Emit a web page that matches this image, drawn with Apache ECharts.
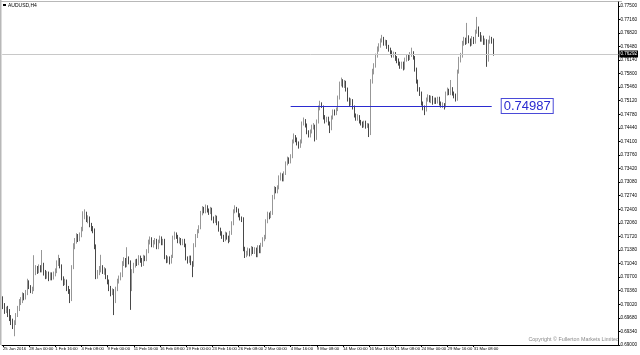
<!DOCTYPE html>
<html><head><meta charset="utf-8">
<script src="https://cdn.jsdelivr.net/npm/echarts@6/dist/echarts.min.js"></script>
<style>html,body{margin:0;padding:0;background:#fff}#c{width:640px;height:355px}</style>
</head><body><div id="c"></div>
<script>
const opens = [
0.7015,0.6998,0.6985,0.6990,0.6978,0.6968,0.6960,0.6952,0.6958,0.6975,
0.6992,0.7008,0.7012,0.7025,0.7020,0.7030,0.7058,0.7045,0.7036,0.7040,
0.7082,0.7092,0.7085,0.7095,0.7088,0.7100,0.7080,0.7072,0.7078,0.7068,
0.7075,0.7070,0.7078,0.7085,0.7105,0.7112,0.7098,0.7068,0.7055,0.7060,
0.7042,0.7035,0.7015,0.7095,0.7148,0.7160,0.7172,0.7165,0.7175,0.7190,
0.7225,0.7228,0.7212,0.7218,0.7200,0.7192,0.7188,0.7148,0.7072,0.7080,
0.7090,0.7095,0.7082,0.7088,0.7070,0.7060,0.7040,0.7030,0.7035,0.7010,
0.7040,0.7060,0.7068,0.7075,0.7105,0.7112,0.7100,0.7115,0.7108,0.7040,
0.7085,0.7100,0.7110,0.7105,0.7118,0.7112,0.7102,0.7120,0.7115,0.7135,
0.7158,0.7165,0.7150,0.7158,0.7162,0.7145,0.7160,0.7168,0.7155,0.7162,
0.7120,0.7112,0.7118,0.7108,0.7122,0.7170,0.7178,0.7172,0.7160,0.7165,
0.7155,0.7162,0.7150,0.7118,0.7110,0.7120,0.7105,0.7100,0.7150,0.7172,
0.7185,0.7195,0.7230,0.7242,0.7235,0.7245,0.7238,0.7232,0.7240,0.7218,
0.7212,0.7220,0.7205,0.7190,0.7180,0.7172,0.7165,0.7178,0.7170,0.7162,
0.7180,0.7205,0.7235,0.7242,0.7238,0.7225,0.7218,0.7215,0.7140,0.7125,
0.7130,0.7138,0.7128,0.7142,0.7132,0.7140,0.7125,0.7145,0.7135,0.7150,
0.7165,0.7170,0.7210,0.7228,0.7222,0.7230,0.7270,0.7292,0.7285,0.7295,
0.7318,0.7325,0.7315,0.7330,0.7355,0.7365,0.7360,0.7372,0.7410,0.7422,
0.7415,0.7405,0.7398,0.7410,0.7455,0.7462,0.7450,0.7432,0.7425,0.7435,
0.7445,0.7448,0.7418,0.7460,0.7495,0.7505,0.7498,0.7470,0.7462,0.7468,
0.7455,0.7442,0.7470,0.7485,0.7480,0.7490,0.7520,0.7555,0.7562,0.7550,
0.7558,0.7540,0.7515,0.7505,0.7512,0.7495,0.7475,0.7468,0.7472,0.7460,
0.7455,0.7450,0.7458,0.7448,0.7452,0.7430,0.7560,0.7585,0.7600,0.7625,
0.7640,0.7650,0.7662,0.7668,0.7655,0.7660,0.7648,0.7640,0.7632,0.7625,
0.7630,0.7618,0.7612,0.7605,0.7598,0.7605,0.7595,0.7615,0.7622,0.7618,
0.7628,0.7632,0.7620,0.7590,0.7560,0.7540,0.7530,0.7505,0.7495,0.7490,
0.7515,0.7522,0.7512,0.7520,0.7508,0.7515,0.7510,0.7518,0.7505,0.7500,
0.7502,0.7498,0.7530,0.7538,0.7532,0.7540,0.7530,0.7525,0.7518,0.7585,
0.7615,0.7625,0.7655,0.7665,0.7658,0.7670,0.7662,0.7655,0.7668,0.7660,
0.7685,0.7692,0.7678,0.7665,0.7670,0.7658,0.7662,0.7615,0.7660,0.7668,
0.7662];
const closes = [
0.6998,0.6985,0.6990,0.6978,0.6968,0.6960,0.6952,0.6958,0.6975,0.6992,
0.7008,0.7012,0.7025,0.7020,0.7030,0.7058,0.7045,0.7036,0.7040,0.7082,
0.7092,0.7085,0.7095,0.7088,0.7100,0.7080,0.7072,0.7078,0.7068,0.7075,
0.7070,0.7078,0.7085,0.7105,0.7112,0.7098,0.7068,0.7055,0.7060,0.7042,
0.7035,0.7015,0.7095,0.7148,0.7160,0.7172,0.7165,0.7175,0.7190,0.7225,
0.7228,0.7212,0.7218,0.7200,0.7192,0.7188,0.7148,0.7072,0.7080,0.7090,
0.7095,0.7082,0.7088,0.7070,0.7060,0.7040,0.7030,0.7035,0.7010,0.7040,
0.7060,0.7068,0.7075,0.7105,0.7112,0.7100,0.7115,0.7108,0.7040,0.7085,
0.7100,0.7110,0.7105,0.7118,0.7112,0.7102,0.7120,0.7115,0.7135,0.7158,
0.7165,0.7150,0.7158,0.7162,0.7145,0.7160,0.7168,0.7155,0.7162,0.7120,
0.7112,0.7118,0.7108,0.7122,0.7170,0.7178,0.7172,0.7160,0.7165,0.7155,
0.7162,0.7150,0.7118,0.7110,0.7120,0.7105,0.7100,0.7150,0.7172,0.7185,
0.7195,0.7230,0.7242,0.7235,0.7245,0.7238,0.7232,0.7240,0.7218,0.7212,
0.7220,0.7205,0.7190,0.7180,0.7172,0.7165,0.7178,0.7170,0.7162,0.7180,
0.7205,0.7235,0.7242,0.7238,0.7225,0.7218,0.7215,0.7140,0.7125,0.7130,
0.7138,0.7128,0.7142,0.7132,0.7140,0.7125,0.7145,0.7135,0.7150,0.7165,
0.7170,0.7210,0.7228,0.7222,0.7230,0.7270,0.7292,0.7285,0.7295,0.7318,
0.7325,0.7315,0.7330,0.7355,0.7365,0.7360,0.7372,0.7410,0.7422,0.7415,
0.7405,0.7398,0.7410,0.7455,0.7462,0.7450,0.7432,0.7425,0.7435,0.7445,
0.7448,0.7418,0.7460,0.7495,0.7505,0.7498,0.7470,0.7462,0.7468,0.7455,
0.7442,0.7470,0.7485,0.7480,0.7490,0.7520,0.7555,0.7562,0.7550,0.7558,
0.7540,0.7515,0.7505,0.7512,0.7495,0.7475,0.7468,0.7472,0.7460,0.7455,
0.7450,0.7458,0.7448,0.7452,0.7430,0.7560,0.7585,0.7600,0.7625,0.7640,
0.7650,0.7662,0.7668,0.7655,0.7660,0.7648,0.7640,0.7632,0.7625,0.7630,
0.7618,0.7612,0.7605,0.7598,0.7605,0.7595,0.7615,0.7622,0.7618,0.7628,
0.7632,0.7620,0.7590,0.7560,0.7540,0.7530,0.7505,0.7495,0.7490,0.7515,
0.7522,0.7512,0.7520,0.7508,0.7515,0.7510,0.7518,0.7505,0.7500,0.7502,
0.7498,0.7530,0.7538,0.7532,0.7540,0.7530,0.7525,0.7518,0.7585,0.7615,
0.7625,0.7655,0.7665,0.7658,0.7670,0.7662,0.7655,0.7668,0.7660,0.7685,
0.7692,0.7678,0.7665,0.7670,0.7658,0.7662,0.7615,0.7660,0.7668,0.7662,
0.76292];
const highs = [
0.7022,0.7005,0.6996,0.6998,0.6990,0.6975,0.6966,0.6962,0.6980,0.6998,
0.7015,0.7020,0.7032,0.7030,0.7038,0.7066,0.7062,0.7050,0.7046,0.7125,
0.7100,0.7098,0.7102,0.7100,0.7138,0.7106,0.7088,0.7085,0.7084,0.7082,
0.7082,0.7084,0.7092,0.7112,0.7126,0.7118,0.7102,0.7072,0.7066,0.7064,
0.7048,0.7040,0.7100,0.7155,0.7168,0.7180,0.7178,0.7182,0.7196,0.7235,
0.7240,0.7234,0.7225,0.7222,0.7206,0.7198,0.7192,0.7152,0.7088,0.7098,
0.7126,0.7100,0.7095,0.7092,0.7075,0.7064,0.7048,0.7042,0.7040,0.7046,
0.7066,0.7074,0.7082,0.7110,0.7120,0.7118,0.7145,0.7122,0.7112,0.7090,
0.7106,0.7115,0.7116,0.7125,0.7124,0.7118,0.7126,0.7124,0.7140,0.7164,
0.7172,0.7170,0.7163,0.7168,0.7166,0.7164,0.7174,0.7172,0.7166,0.7166,
0.7125,0.7122,0.7122,0.7126,0.7174,0.7184,0.7182,0.7176,0.7170,0.7168,
0.7166,0.7166,0.7154,0.7122,0.7124,0.7124,0.7110,0.7155,0.7178,0.7190,
0.7200,0.7236,0.7248,0.7246,0.7252,0.7250,0.7242,0.7246,0.7244,0.7222,
0.7226,0.7224,0.7210,0.7194,0.7185,0.7176,0.7184,0.7182,0.7174,0.7186,
0.7210,0.7240,0.7250,0.7246,0.7242,0.7230,0.7222,0.7220,0.7146,0.7136,
0.7144,0.7142,0.7148,0.7146,0.7145,0.7144,0.7150,0.7150,0.7156,0.7170,
0.7176,0.7215,0.7234,0.7232,0.7236,0.7276,0.7298,0.7296,0.7300,0.7325,
0.7332,0.7330,0.7335,0.7360,0.7372,0.7370,0.7378,0.7415,0.7430,0.7426,
0.7420,0.7410,0.7415,0.7460,0.7470,0.7466,0.7455,0.7438,0.7440,0.7452,
0.7456,0.7452,0.7465,0.7500,0.7512,0.7508,0.7500,0.7476,0.7472,0.7472,
0.7460,0.7475,0.7490,0.7490,0.7495,0.7525,0.7560,0.7570,0.7566,0.7564,
0.7562,0.7545,0.7520,0.7518,0.7516,0.7500,0.7480,0.7478,0.7476,0.7464,
0.7460,0.7462,0.7462,0.7456,0.7455,0.7566,0.7592,0.7606,0.7630,0.7648,
0.7656,0.7668,0.7677,0.7672,0.7665,0.7664,0.7652,0.7645,0.7638,0.7635,
0.7634,0.7624,0.7618,0.7610,0.7610,0.7610,0.7620,0.7628,0.7628,0.7634,
0.7645,0.7636,0.7624,0.7595,0.7565,0.7546,0.7535,0.7510,0.7500,0.7520,
0.7528,0.7526,0.7525,0.7524,0.7520,0.7520,0.7522,0.7522,0.7510,0.7508,
0.7506,0.7535,0.7545,0.7542,0.7564,0.7546,0.7535,0.7530,0.7590,0.7622,
0.7632,0.7662,0.7672,0.7670,0.7707,0.7676,0.7668,0.7674,0.7672,0.7690,
0.7722,0.7698,0.7684,0.7676,0.7675,0.7668,0.7666,0.7665,0.7675,0.7672,
0.7668];
const lows = [
0.6990,0.6978,0.6980,0.6970,0.6960,0.6950,0.6940,0.6922,0.6950,0.6970,
0.6985,0.7000,0.7005,0.7012,0.7014,0.7025,0.7040,0.7030,0.7028,0.7035,
0.7075,0.7078,0.7080,0.7082,0.7082,0.7074,0.7065,0.7066,0.7060,0.7062,
0.7062,0.7064,0.7072,0.7080,0.7098,0.7092,0.7062,0.7048,0.7050,0.7035,
0.7028,0.7005,0.7010,0.7090,0.7140,0.7154,0.7158,0.7160,0.7170,0.7185,
0.7215,0.7208,0.7205,0.7195,0.7185,0.7180,0.7140,0.7065,0.7066,0.7075,
0.7082,0.7078,0.7076,0.7065,0.7052,0.7035,0.7022,0.7025,0.6975,0.7005,
0.7035,0.7054,0.7062,0.7070,0.7098,0.7094,0.7095,0.7102,0.6988,0.7035,
0.7080,0.7094,0.7098,0.7100,0.7106,0.7096,0.7098,0.7110,0.7110,0.7130,
0.7152,0.7145,0.7144,0.7152,0.7140,0.7140,0.7155,0.7150,0.7150,0.7115,
0.7105,0.7106,0.7102,0.7104,0.7118,0.7164,0.7166,0.7155,0.7154,0.7150,
0.7150,0.7145,0.7112,0.7104,0.7106,0.7100,0.7070,0.7096,0.7145,0.7168,
0.7180,0.7190,0.7225,0.7230,0.7230,0.7232,0.7226,0.7228,0.7212,0.7205,
0.7206,0.7200,0.7184,0.7174,0.7166,0.7158,0.7160,0.7164,0.7155,0.7158,
0.7176,0.7200,0.7230,0.7232,0.7220,0.7212,0.7208,0.7135,0.7118,0.7120,
0.7124,0.7122,0.7124,0.7128,0.7128,0.7120,0.7120,0.7130,0.7130,0.7146,
0.7160,0.7165,0.7205,0.7215,0.7218,0.7226,0.7265,0.7280,0.7280,0.7290,
0.7312,0.7310,0.7310,0.7326,0.7350,0.7354,0.7355,0.7368,0.7405,0.7408,
0.7400,0.7392,0.7394,0.7405,0.7450,0.7445,0.7428,0.7420,0.7420,0.7430,
0.7440,0.7410,0.7414,0.7455,0.7488,0.7494,0.7465,0.7455,0.7458,0.7450,
0.7431,0.7438,0.7465,0.7475,0.7476,0.7486,0.7515,0.7548,0.7545,0.7544,
0.7535,0.7510,0.7498,0.7500,0.7490,0.7470,0.7462,0.7462,0.7455,0.7450,
0.7444,0.7445,0.7442,0.7444,0.7421,0.7426,0.7555,0.7578,0.7595,0.7620,
0.7635,0.7645,0.7658,0.7650,0.7650,0.7642,0.7635,0.7626,0.7620,0.7620,
0.7612,0.7606,0.7600,0.7592,0.7592,0.7588,0.7590,0.7610,0.7612,0.7614,
0.7622,0.7615,0.7585,0.7555,0.7535,0.7524,0.7500,0.7488,0.7476,0.7485,
0.7510,0.7508,0.7506,0.7502,0.7504,0.7504,0.7505,0.7500,0.7495,0.7494,
0.7490,0.7495,0.7525,0.7526,0.7526,0.7525,0.7518,0.7510,0.7512,0.7580,
0.7608,0.7620,0.7650,0.7652,0.7654,0.7656,0.7648,0.7650,0.7654,0.7655,
0.7680,0.7672,0.7660,0.7660,0.7652,0.7652,0.7597,0.7610,0.7655,0.7655,
0.7625];

const tickBars = [0,16,32,48,64,80,96,112,128,144,160,176,192,208,224,240,256,272,288];
const tickLabels = ["25 Jan 2016","28 Jan 00:00","1 Feb 16:00","4 Feb 08:00","9 Feb 00:00","11 Feb 16:00",
  "16 Feb 08:00","19 Feb 00:00","23 Feb 16:00","26 Feb 08:00","2 Mar 00:00","4 Mar 16:00","9 Mar 08:00",
  "14 Mar 00:00","16 Mar 16:00","21 Mar 08:00","24 Mar 00:00","29 Mar 16:00","31 Mar 08:00"];
const priceTicks = [0.69000,0.69340,0.69680,0.70020,0.70360,0.70700,0.71040,0.71380,0.71720,0.72060,
  0.72400,0.72740,0.73080,0.73420,0.73760,0.74100,0.74440,0.74780,0.75120,0.75460,0.75800,0.76140,
  0.76480,0.76820,0.77160,0.77500];
const supportLevel = 0.74987;
const supportFromBar = 176, supportToBar = 299;
const lastPrice = 0.76292;
const slotCount = 377;

const slots = [];
for (let i = 0; i < slotCount; i++) slots.push(String(i));
const candles = closes.map((c, i) => [opens[i], c, lows[i], highs[i]]);
const tickSet = new Set(tickBars);
const labelOf = {};
tickBars.forEach((b, k) => { labelOf[b] = tickLabels[k]; });

const FONT = 'Liberation Sans';
const chart = echarts.init(document.getElementById('c'), null, {renderer: 'canvas'});
chart.setOption({
  animation: false,
  backgroundColor: '#ffffff',
  grid: {left: 1, right: 18, top: 2, bottom: 10},
  xAxis: {
    type: 'category', data: slots, boundaryGap: true,
    axisLine: {show: true, lineStyle: {color: '#000', width: 1}},
    axisTick: {show: true, alignWithLabel: true, length: 2, lineStyle: {color: '#000'},
      interval: (i) => tickSet.has(i)},
    axisLabel: {show: true, interval: (i) => tickSet.has(i), formatter: (v, i) => labelOf[i] || '',
      fontSize: 4.2, color: '#000', align: 'left', margin: 2, fontFamily: FONT},
    splitLine: {show: false}
  },
  yAxis: {
    type: 'value', position: 'right', min: 0.69, max: 0.77594,
    axisLine: {show: true, lineStyle: {color: '#000', width: 1}},
    axisTick: {show: true, length: 2, customValues: priceTicks, lineStyle: {color: '#000'}},
    axisLabel: {show: true, customValues: priceTicks, formatter: (v) => v.toFixed(5),
      fontSize: 4.6, color: '#000', margin: 2, fontFamily: FONT},
    splitLine: {show: false}
  },
  graphic: [
    {type: 'rect', left: 0, top: 0, shape: {width: 1.5, height: 345}, style: {fill: '#b8b8b8'}, silent: true},
    {type: 'line', shape: {x1: 0, y1: 1.5, x2: 622, y2: 1.5}, style: {stroke: '#b8b8b8', lineWidth: 1}, silent: true},
    {type: 'rect', left: 3, top: 4, shape: {width: 3, height: 2}, style: {fill: '#000'}, silent: true},
    {type: 'text', left: 8, top: 3, style: {text: 'AUDUSD,H4', fontSize: 5, fill: '#000', fontFamily: FONT}, silent: true},
    {type: 'text', right: 21, top: 337.5, style: {text: 'Copyright © Fullerton Markets Limited', fontSize: 5.4, fill: '#8a8a8a', fontFamily: FONT}, silent: true}
  ],
  series: [{
    type: 'candlestick',
    data: candles,
    barWidth: 1,
    itemStyle: {color: '#ffffff', color0: '#1a1a1a', borderColor: '#7c7c7c', borderColor0: '#1a1a1a', borderWidth: 0.8},
    markLine: {
      silent: true, symbol: ['none', 'none'], animation: false, precision: 5,
      data: [
        [{coord: [supportFromBar, supportLevel], lineStyle: {color: '#2b2bd0', width: 1, type: 'solid'},
          label: {show: true, position: 'end', distance: 10, formatter: supportLevel.toFixed(5),
            color: '#2a2ad0', fontSize: 13, fontFamily: FONT, backgroundColor: '#fff',
            borderColor: '#4a4ad8', borderWidth: 1, padding: [1, 2, 0, 2]}},
         {coord: [supportToBar, supportLevel]}],
        {yAxis: lastPrice, lineStyle: {color: '#c8c8c8', width: 1, type: 'solid'},
         label: {show: true, position: 'end', distance: 1, formatter: lastPrice.toFixed(5),
           color: '#fff', backgroundColor: '#000', fontSize: 4.6, padding: [1, 1], fontFamily: FONT}}
      ]
    }
  }]
});
</script></body></html>
